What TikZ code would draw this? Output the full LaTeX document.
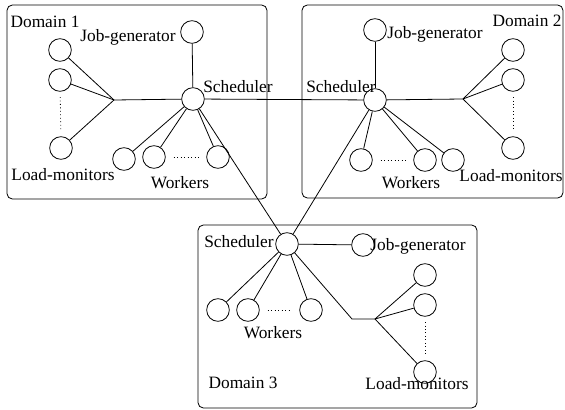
\documentclass[tikz,border=0pt]{standalone}
\usepackage{fontspec}
\setmainfont{Liberation Serif}

\begin{document}
\begin{tikzpicture}[x=0.75pt,y=0.75pt,yscale=-1,xscale=1,line width=0.6pt,
  unit/.style={circle,draw,inner sep=0pt,minimum size=17pt},
  lbl/.style={inner sep=0pt,font=\fontsize{13}{15}\selectfont},
  domainbox/.style={draw,rounded corners=4pt}]
\useasboundingbox (0,0) rectangle (565,410);
%Domain boxes
\draw[domainbox] (7,5) rectangle (267,199);
\draw[domainbox] (302,5) rectangle (563,198);
\draw[domainbox] (198,225) rectangle (477,408);
%Domain 1
\node[unit] (j1) at (192,32) {};
\node[unit] (s1) at (193,99) {};
\node[unit] (la1) at (60,50) {};
\node[unit] (lb1) at (60,80) {};
\node[unit] (lc1) at (61,148) {};
\node[unit] (wa1) at (124,159) {};
\node[unit] (wb1) at (154,157) {};
\node[unit] (wc1) at (218,157) {};
\coordinate (h1) at (114,100);
\draw (j1) -- (s1) ;
\draw (la1) -- (h1) ; \draw (lb1) -- (h1) ; \draw (lc1) -- (h1) ;
\draw (h1) -- (s1) ;
\draw (s1) -- (wa1) ; \draw (s1) -- (wb1) ; \draw (s1) -- (wc1) ;
\draw[dotted,shorten >=4pt,shorten <=4pt] (lb1) -- (lc1) ;
\draw[dotted,shorten >=6pt,shorten <=6pt] (wb1) -- (wc1) ;
\node[lbl] (d1lbl) at (45,22) {Domain 1};
\node[lbl] (j1lbl) at (128,37) {Job-generator};
\node[lbl] (s1lbl) at (238,87) {Scheduler};
\node[lbl] (l1lbl) at (63,175) {Load-monitors};
\node[lbl] (w1lbl) at (180,183) {Workers};
%Domain 2
\node[unit] (j2) at (375,30) {};
\node[unit] (s2) at (375,100) {};
\node[unit] (la2) at (513,50) {};
\node[unit] (lb2) at (513,80) {};
\node[unit] (lc2) at (513,148) {};
\node[unit] (wa2) at (361,160) {};
\node[unit] (wb2) at (425,160) {};
\node[unit] (wc2) at (453,160) {};
\coordinate (h2) at (463,99);
\draw (j2) -- (s2) ;
\draw (la2) -- (h2) ; \draw (lb2) -- (h2) ; \draw (lc2) -- (h2) ;
\draw (h2) -- (s2) ;
\draw (s2) -- (wa2) ; \draw (s2) -- (wb2) ; \draw (s2) -- (wc2) ;
\draw[dotted,shorten >=4pt,shorten <=4pt] (lb2) -- (lc2) ;
\draw[dotted,shorten >=6pt,shorten <=6pt] (wa2) -- (wb2) ;
\node[lbl] (d2lbl) at (527,21) {Domain 2};
\node[lbl] (j2lbl) at (435,34) {Job-generator};
\node[lbl] (s2lbl) at (341,87) {Scheduler};
\node[lbl] (w2lbl) at (411,183) {Workers};
\node[lbl] (l2lbl) at (511,176) {Load-monitors};
%Domain 3
\node[unit] (s3) at (287,244) {};
\node[unit] (j3) at (363,245) {};
\node[unit] (la3) at (425,275) {};
\node[unit] (lb3) at (425,305) {};
\node[unit] (lc3) at (425,372) {};
\node[unit] (wa3) at (218,310) {};
\node[unit] (wb3) at (248,310) {};
\node[unit] (wc3) at (311,310) {};
\coordinate (b3) at (352,319);
\coordinate (h3) at (375,319);
\draw (s3) -- (j3) ;
\draw (s3) -- (b3) -- (h3) ;
\draw (la3) -- (h3) ; \draw (lb3) -- (h3) ; \draw (lc3) -- (h3) ;
\draw (s3) -- (wa3) ; \draw (s3) -- (wb3) ; \draw (s3) -- (wc3) ;
\draw[dotted,shorten >=4pt,shorten <=4pt] (lb3) -- (lc3) ;
\draw[dotted,shorten >=6pt,shorten <=6pt] (wb3) -- (wc3) ;
\node[lbl] (s3lbl) at (239,242) {Scheduler};
\node[lbl] (j3lbl) at (418,246) {Job-generator};
\node[lbl] (w3lbl) at (273,333) {Workers};
\node[lbl] (d3lbl) at (243,383) {Domain 3};
\node[lbl] (l3lbl) at (417,384) {Load-monitors};
%Links between schedulers
\draw (s1) -- (s2) ;
\draw (s1) -- (s3) ;
\draw (s2) -- (s3) ;
\end{tikzpicture}
\end{document}
